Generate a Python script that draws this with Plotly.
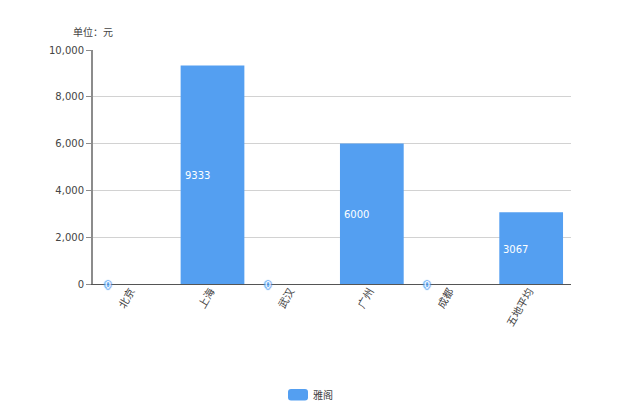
import plotly.graph_objects as go

categories = ["北京", "上海", "武汉", "广州", "成都", "五地平均"]
values = [0, 9333, 0, 6000, 0, 3067]
series_name = "雅阁"
tick_values = [0, 2000, 4000, 6000, 8000, 10000]
unit_label = "单位：元"

BLUE = "#549ff1"
FONT = "DejaVu Sans, Noto Sans CJK SC, sans-serif"
TEXT = "#444444"
W, H = 620, 413
L, R, T, B = 93, 571, 50, 284

fig = go.Figure()
fig.add_trace(go.Bar(x=categories, y=values, name=series_name, width=0.8,
                     marker=dict(color=BLUE, line=dict(width=0)),
                     showlegend=False, hoverinfo="x+y"))

annotations = []
for c, v in zip(categories, values):
    if v > 0:
        annotations.append(dict(x=c, y=v / 2, text=str(v), showarrow=False, xanchor="left",
                                xshift=-30, yshift=-1, font=dict(family=FONT, size=10, color="#ffffff")))
    else:
        annotations.append(dict(x=c, y=0, text="0", showarrow=False, xanchor="left",
                                xshift=-29.5, font=dict(family=FONT, size=9.5, color="#ffffff",
                                shadow=f"1.5px 0 1px {BLUE}, -1.5px 0 1px {BLUE}, 0 1.5px 1px {BLUE}, 0 -1.5px 1px {BLUE}")))
annotations.append(dict(xref="paper", yref="paper", x=(71 - L) / (R - L), y=(B - 32) / (B - T),
                        text=unit_label, showarrow=False, xanchor="left", yanchor="middle",
                        font=dict(family=FONT, size=10, color=TEXT)))
annotations.append(dict(xref="paper", yref="paper", x=(311 - L) / (R - L), y=(B - 395) / (B - T),
                        text=series_name, showarrow=False, xanchor="left", yanchor="middle",
                        font=dict(family=FONT, size=10, color=TEXT)))

def px(x):
    return (x - L) / (R - L)
def py(y):
    return (B - y) / (B - T)

x0, x1, y0, y1, r = 288, 308, 389, 400.5, 3
legend_path = (f"M {px(x0 + r)} {py(y0)} L {px(x1 - r)} {py(y0)} Q {px(x1)} {py(y0)} {px(x1)} {py(y0 + r)} "
               f"L {px(x1)} {py(y1 - r)} Q {px(x1)} {py(y1)} {px(x1 - r)} {py(y1)} "
               f"L {px(x0 + r)} {py(y1)} Q {px(x0)} {py(y1)} {px(x0)} {py(y1 - r)} "
               f"L {px(x0)} {py(y0 + r)} Q {px(x0)} {py(y0)} {px(x0 + r)} {py(y0)} Z")

fig.update_layout(
    width=W, height=H, autosize=False,
    margin=dict(l=L, r=W - R, t=T, b=H - B),
    paper_bgcolor="#ffffff", plot_bgcolor="#ffffff",
    font=dict(family=FONT, size=10, color=TEXT),
    showlegend=False,
    annotations=annotations,
    shapes=[dict(type="path", xref="paper", yref="paper", path=legend_path,
                 fillcolor=BLUE, line=dict(width=0))],
    xaxis=dict(type="category", tickangle=-60, showgrid=False, ticks="",
               showline=True, linecolor="#555555", linewidth=1,
               ticklabelstandoff=-4, ticklabelshift=-2,
               tickfont=dict(family=FONT, size=10.5, color=TEXT)),
    yaxis=dict(range=[0, 10000], tickvals=tick_values, tickformat=",d",
               showgrid=True, gridcolor="#d2d2d2", gridwidth=1, zeroline=False,
               showline=True, linecolor="#8c8c8c", linewidth=2,
               ticks="outside", ticklen=5, tickcolor="#8c8c8c",
               tickfont=dict(family=FONT, size=10, color=TEXT)),
)
fig.write_html("out.html", post_script="document.body.style.margin='0';",
               config={"displayModeBar": False})
